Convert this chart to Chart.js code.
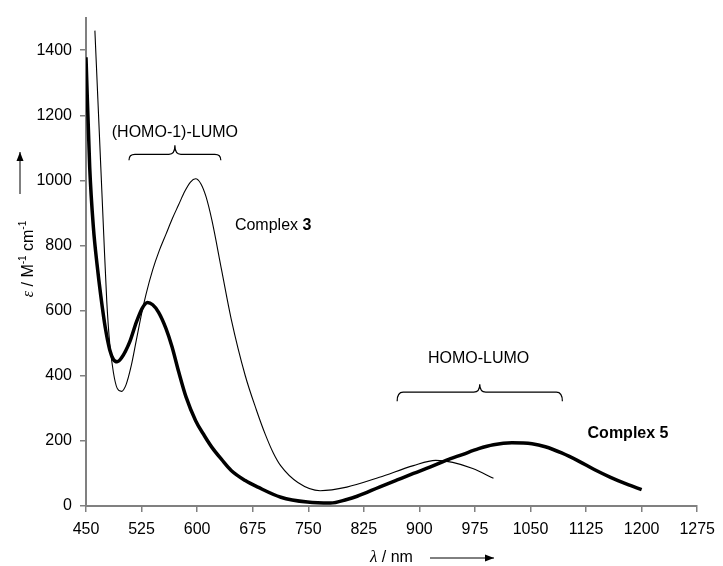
<!DOCTYPE html>
<html>
<head>
<meta charset="utf-8">
<script src="https://cdn.jsdelivr.net/npm/chart.js@4.4.1/dist/chart.umd.min.js"></script>
<style>
  html, body { margin: 0; padding: 0; background: #fff; }
  #wrap { width: 723px; height: 566px; position: relative; }
</style>
</head>
<body>
<div id="wrap"><canvas id="spectrum"></canvas></div>
<script>
// Complex 5 (thick trace)
const complex5Wavelength = [450, 455, 460, 465, 470, 476, 482, 487, 492, 498, 509, 518, 526, 533, 540, 548, 558, 566, 575, 585, 598, 610, 620, 633, 646, 665, 682, 713, 749, 780, 802, 816, 846, 870, 892, 915, 936, 958, 980, 1000, 1025, 1052, 1070, 1092, 1115, 1136, 1158, 1180, 1200];
const complex5Epsilon    = [1378, 1040, 855, 740, 645, 548, 480, 450, 443, 455, 504, 565, 608, 625, 618, 595, 545, 490, 413, 335, 262, 215, 180, 143, 109, 78, 58, 27, 12, 9, 20, 30, 58, 80, 100, 120, 140, 158, 176, 188, 194, 191, 182, 163, 138, 112, 88, 67, 50];

// Complex 3 (thin trace)
const complex3Wavelength = [462, 466, 470, 474, 478, 482, 487, 492, 498, 504, 511, 518, 525, 531, 540, 549, 558, 566, 575, 583, 591, 598, 605, 612, 620, 633, 646, 665, 680, 692, 703, 713, 736, 766, 802, 846, 892, 922, 945, 972, 1000];
const complex3Epsilon    = [1460, 1250, 1040, 830, 630, 500, 410, 362, 352, 372, 430, 510, 590, 650, 725, 785, 835, 880, 925, 965, 995, 1005, 990, 950, 877, 725, 574, 400, 295, 220, 162, 123, 72, 47, 58, 88, 124, 140, 134, 115, 85];

// axis ticks
const xTickValues = [450, 525, 600, 675, 750, 825, 900, 975, 1050, 1125, 1200, 1275];
const yTickValues = [0, 200, 400, 600, 800, 1000, 1200, 1400];

const toPoints = (xs, ys) => xs.map((x, i) => ({ x: x, y: ys[i] }));

const SANS = '"Liberation Sans", Arial, sans-serif';
const SERIF = '"Liberation Serif", "Times New Roman", serif';

// braces, labels and axis titles drawn on top
const annotations = {
  id: 'annotations',
  afterDraw(chart) {
    const ctx = chart.ctx;
    const xs = chart.scales.x, ys = chart.scales.y;
    const px = v => xs.getPixelForValue(v);
    const py = v => ys.getPixelForValue(v);

    ctx.save();
    ctx.fillStyle = '#000';
    ctx.strokeStyle = '#000';
    ctx.lineWidth = 1.2;
    ctx.textBaseline = 'middle';

    // curly brace opening downwards
    function brace(x1, x2, yLine, yEnd, yTip) {
      const xm = (x1 + x2) / 2;
      const r = 6;
      ctx.beginPath();
      ctx.moveTo(x1, yEnd);
      ctx.quadraticCurveTo(x1, yLine, x1 + r, yLine);
      ctx.lineTo(xm - r, yLine);
      ctx.quadraticCurveTo(xm, yLine, xm, yTip);
      ctx.quadraticCurveTo(xm, yLine, xm + r, yLine);
      ctx.lineTo(x2 - r, yLine);
      ctx.quadraticCurveTo(x2, yLine, x2, yEnd);
      ctx.stroke();
    }

    ctx.font = '16px ' + SANS;
    ctx.textAlign = 'center';
    ctx.fillText('(HOMO-1)-LUMO', px(570), py(1147));
    brace(px(508), px(632), py(1080), py(1062), py(1108));

    ctx.fillText('HOMO-LUMO', px(980), py(452));
    brace(px(870), px(1093), py(350), py(322), py(374));

    // Complex 3 label
    ctx.textAlign = 'left';
    ctx.font = '16px ' + SANS;
    const c3x = px(651), c3y = py(862);
    ctx.fillText('Complex ', c3x, c3y);
    const w3 = ctx.measureText('Complex ').width;
    ctx.font = 'bold 16px ' + SANS;
    ctx.fillText('3', c3x + w3, c3y);

    // Complex 5 label
    ctx.font = 'bold 16px ' + SANS;
    ctx.fillText('Complex 5', px(1127), py(222));

    // x-axis title with arrow
    ctx.textBaseline = 'alphabetic';
    let tx = 370;
    ctx.font = 'italic 17px ' + SERIF;
    ctx.fillText('\u03bb', tx, 562);
    tx += ctx.measureText('\u03bb').width;
    ctx.font = '16px ' + SANS;
    ctx.fillText(' / nm', tx, 562);

    function arrow(x1, y1, x2, y2) {
      ctx.beginPath();
      ctx.moveTo(x1, y1);
      ctx.lineTo(x2, y2);
      ctx.lineWidth = 1;
      ctx.stroke();
      const a = Math.atan2(y2 - y1, x2 - x1);
      ctx.beginPath();
      ctx.moveTo(x2, y2);
      ctx.lineTo(x2 - 9 * Math.cos(a) + 3.5 * Math.sin(a), y2 - 9 * Math.sin(a) - 3.5 * Math.cos(a));
      ctx.lineTo(x2 - 9 * Math.cos(a) - 3.5 * Math.sin(a), y2 - 9 * Math.sin(a) + 3.5 * Math.cos(a));
      ctx.closePath();
      ctx.fill();
    }
    arrow(430, 558, 494, 558);
    arrow(20, 194, 20, 152);

    // y-axis title, rotated
    ctx.save();
    ctx.translate(33, 259);
    ctx.rotate(-Math.PI / 2);
    const parts = [
      { t: '\u03b5', f: 'italic 16px ' + SERIF, dy: 0 },
      { t: ' / M', f: '16px ' + SANS, dy: 0 },
      { t: '-1', f: '10px ' + SANS, dy: -7 },
      { t: ' cm', f: '16px ' + SANS, dy: 0 },
      { t: '-1', f: '10px ' + SANS, dy: -7 }
    ];
    let total = 0;
    parts.forEach(p => { ctx.font = p.f; p.w = ctx.measureText(p.t).width; total += p.w; });
    let cx = -total / 2;
    ctx.textAlign = 'left';
    parts.forEach(p => { ctx.font = p.f; ctx.fillText(p.t, cx, p.dy); cx += p.w; });
    ctx.restore();

    ctx.restore();
  }
};

new Chart(document.getElementById('spectrum').getContext('2d'), {
  type: 'scatter',
  data: {
    datasets: [{
      label: 'Complex 5',
      data: toPoints(complex5Wavelength, complex5Epsilon),
      showLine: true,
      borderColor: '#000',
      borderWidth: 3.5,
      pointRadius: 0,
      cubicInterpolationMode: 'monotone'
    }, {
      label: 'Complex 3',
      data: toPoints(complex3Wavelength, complex3Epsilon),
      showLine: true,
      borderColor: '#000',
      borderWidth: 1.1,
      pointRadius: 0,
      cubicInterpolationMode: 'monotone'
    }]
  },
  options: {
    responsive: true,
    maintainAspectRatio: false,
    animation: false,
    layout: { padding: { top: 12, right: 19, left: 0, bottom: 0 } },
    plugins: {
      legend: { display: false },
      tooltip: { enabled: false }
    },
    scales: {
      x: {
        type: 'linear',
        min: 450,
        max: 1275,
        afterBuildTicks: axis => { axis.ticks = xTickValues.map(v => ({ value: v })); },
        afterFit: scale => { scale.height = 60; },
        ticks: { color: '#000', padding: 8, maxRotation: 0, font: { family: SANS, size: 16 }, callback: v => String(v) },
        grid: { drawOnChartArea: false, tickLength: 6, color: '#808080', lineWidth: 1.5 },
        border: { color: '#808080', width: 2 }
      },
      y: {
        min: 0,
        max: 1500,
        afterBuildTicks: axis => { axis.ticks = yTickValues.map(v => ({ value: v })); },
        afterFit: scale => { scale.width = 86; },
        ticks: { color: '#000', padding: 8, font: { family: SANS, size: 16 }, callback: v => String(v) },
        grid: { drawOnChartArea: false, tickLength: 6, color: '#808080', lineWidth: 1.5 },
        border: { color: '#808080', width: 2 }
      }
    }
  },
  plugins: [annotations]
});
</script>
</body>
</html>
